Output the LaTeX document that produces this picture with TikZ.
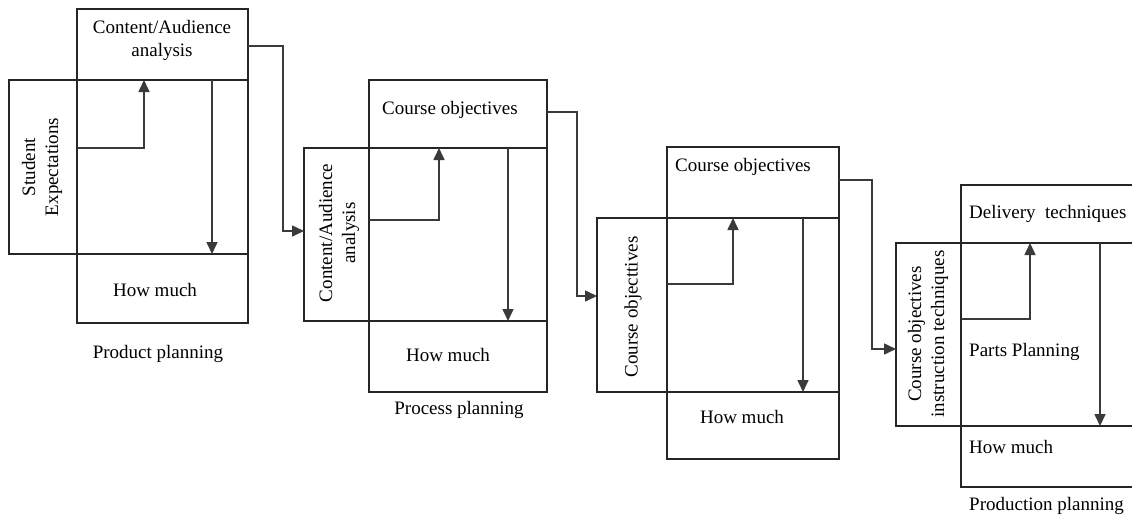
\documentclass[tikz,border=0pt]{standalone}
\usepackage{fontspec}
\setmainfont{Liberation Serif}
\usetikzlibrary{arrows.meta,calc}
\definecolor{edge}{HTML}{262626}
\definecolor{conncol}{HTML}{3A3A3A}
\begin{document}
\begin{tikzpicture}[x=1pt,y=-1pt,
  box/.style={draw=edge,line width=1.8pt,inner sep=0pt,outer sep=0pt,anchor=north west},
  conn/.style={draw=conncol,line width=1.6pt,-{Triangle[length=12pt,width=11pt]}},
  lbl/.style={font=\fontsize{19}{23}\selectfont,inner sep=0pt,align=center,text=black},
  vlbl/.style={lbl,rotate=90}]
\useasboundingbox (0,0) rectangle (1132,517);
\clip (0,0) rectangle (1132,517);
% ---------- group 1: Product planning
\node[box,minimum width=171pt,minimum height=314pt] (t1) at (77,9) {};
\node[box,minimum width=239pt,minimum height=174pt] (w1) at (9,80) {};
\node[lbl] (t1txt) at (162,40) {Content/Audience\\analysis};
\node[vlbl] (w1txt) at (42,167) {Student\\Expectations};
\node[lbl] (h1) at (155,290) {How much};
\node[lbl] (p1) at (158,354) {Product planning};
\draw[conn] (t1.west |- 0,148) -| (w1.north -| 144,0);
\draw[conn] (w1.north -| 212,0) -- (w1.south -| 212,0);
% ---------- group 2: Process planning
\node[box,minimum width=178pt,minimum height=312pt] (t2) at (369,80) {};
\node[box,minimum width=243pt,minimum height=173pt] (w2) at (304,148) {};
\node[lbl] (t2txt) at (450,110) {Course objectives};
\node[vlbl] (w2txt) at (339,233) {Content/Audience\\analysis};
\node[lbl] (h2) at (448,355) {How much};
\node[lbl] (p2) at (459,410) {Process planning};
\draw[conn] (t2.west |- 0,220) -| (w2.north -| 439,0);
\draw[conn] (w2.north -| 508,0) -- (w2.south -| 508,0);
% ---------- group 3
\node[box,minimum width=172pt,minimum height=312pt] (t3) at (667,147) {};
\node[box,minimum width=242pt,minimum height=174pt] (w3) at (597,218) {};
\node[lbl] (t3txt) at (743,167) {Course objectives};
\node[vlbl] (w3txt) at (633,307) {Course objecttives};
\node[lbl] (h3) at (742,417) {How much};
\draw[conn] (t3.west |- 0,284) -| (w3.north -| 733,0);
\draw[conn] (w3.north -| 803,0) -- (w3.south -| 803,0);
% ---------- group 4: Production planning
\node[box,minimum width=190pt,minimum height=302pt] (t4) at (961,185) {};
\node[box,minimum width=255pt,minimum height=183pt] (w4) at (896,243) {};
\node[lbl,anchor=west] (t4txt) at (969,214) {Delivery\ \ techniques};
\node[vlbl] (w4txt) at (928,334) {Course objectives\\instruction techniques};
\node[lbl,anchor=west] (parts) at (969,352) {Parts Planning};
\node[lbl,anchor=west] (h4) at (969,447) {How much};
\node[lbl,anchor=west] (p4) at (969,506) {Production planning};
\draw[conn] (t4.west |- 0,319) -| (w4.north -| 1030,0);
\draw[conn] (w4.north -| 1100,0) -- (w4.south -| 1100,0);
% ---------- connectors between stages
\draw[conn] ([yshift=-37pt]t1.north east) -- ++(35,0) |- ([yshift=3.5pt]w2.west);
\draw[conn] ([yshift=-32pt]t2.north east) -- ++(30,0) |- ([yshift=9pt]w3.west);
\draw[conn] ([yshift=-33pt]t3.north east) -- ++(33,0) |- ([yshift=-14.5pt]w4.west);
\end{tikzpicture}
\end{document}
